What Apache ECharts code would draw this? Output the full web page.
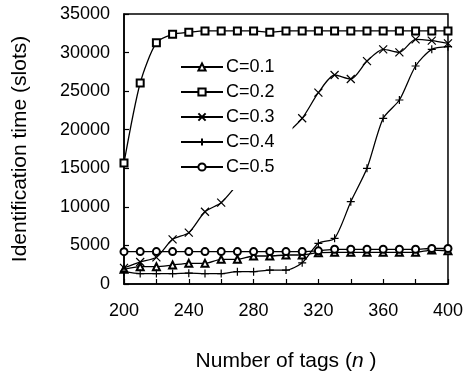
<!DOCTYPE html>
<html><head><meta charset="utf-8">
<script src="https://cdn.jsdelivr.net/npm/echarts@6/dist/echarts.min.js"></script>
<style>html,body{margin:0;padding:0;background:#fff}#c{width:466px;height:378px}</style>
</head><body><div id="c"></div>
<script>
var xValues = [200,210,220,230,240,250,260,270,280,290,300,310,320,330,340,350,360,370,380,390,400];
var c01 = [1900,2240,2240,2460,2680,2680,3200,3200,3630,3630,3760,3760,4060,4100,4100,4100,4100,4100,4100,4400,4300];
var c02 = [15700,26050,31280,32370,32630,32800,32800,32800,32800,32650,32800,32800,32800,32800,32800,32800,32800,32800,32800,32800,32800];
var c03 = [2100,2850,3460,5790,6650,9370,10540,12900,15000,17200,19400,21480,24800,27090,26570,28900,30420,30030,31720,31540,31200];
var c04 = [1600,1350,1350,1350,1400,1350,1350,1600,1600,1800,1800,2750,5270,5920,10670,15000,21480,23850,28260,30420,30760];
var c05 = [4190,4200,4200,4200,4200,4200,4200,4200,4200,4200,4200,4200,4300,4500,4500,4500,4500,4500,4500,4600,4600];
var seriesNames = ['C=0.1','C=0.2','C=0.3','C=0.4','C=0.5'];
var yTicks = [0,5000,10000,15000,20000,25000,30000,35000];
var xTickLabels = [200,240,280,320,360,400];

var FONT = 'Liberation Sans, Arial, sans-serif';
function pairs(arr){ return arr.map(function(v,i){ return [xValues[i], v]; }); }
var symX = 'path://M0,0L10,10M10,0L0,10';
var symPlus = 'path://M5,0L5,10M0,5L10,5';
var defs = [
  {data:c01, symbol:'emptyTriangle', size:7},
  {data:c02, symbol:'emptyRect', size:7},
  {data:c03, symbol:symX, size:8},
  {data:c04, symbol:symPlus, size:8},
  {data:c05, symbol:'emptyCircle', size:7}
];
var chart = echarts.init(document.getElementById('c'), null, {renderer:'canvas'});
chart.setOption({
  animation:false,
  backgroundColor:'#fff',
  textStyle:{fontFamily:FONT},
  grid:{left:124, right:17, top:14, bottom:94, show:true, borderColor:'#000', borderWidth:1.5, backgroundColor:'transparent'},
  legend:{
    orient:'vertical', left:178, top:56, data:seriesNames,
    itemWidth:42, itemHeight:9, itemGap:7,
    backgroundColor:'#fff', padding:[2,18,14,2],
    textStyle:{fontFamily:FONT, fontSize:18, color:'#000', padding:[0,0,0,-2]}
  },
  xAxis:{
    type:'value', min:200, max:400, interval:20,
    name:'Number of tags ({i|n} )', nameLocation:'middle', nameGap:67,
    nameTextStyle:{fontFamily:FONT, fontSize:21, color:'#000', rich:{i:{fontStyle:'italic', fontFamily:FONT, fontSize:21, color:'#000'}}},
    axisLine:{lineStyle:{color:'#000', width:1.5}},
    axisTick:{inside:true, length:5, lineStyle:{color:'#000', width:1.2}},
    axisLabel:{margin:18, fontFamily:FONT, fontSize:18, color:'#000',
      formatter:function(v){ return xTickLabels.indexOf(v) >= 0 ? String(v) : ''; }},
    splitLine:{show:false}
  },
  yAxis:{
    type:'value', min:yTicks[0], max:yTicks[yTicks.length-1], interval:5000,
    name:'Identification time (slots)', nameLocation:'middle', nameGap:93,
    nameTextStyle:{fontFamily:FONT, fontSize:21, color:'#000'},
    axisLine:{lineStyle:{color:'#000', width:1.5}},
    axisTick:{inside:true, length:5, lineStyle:{color:'#000', width:1.2}},
    axisLabel:{margin:14, fontFamily:FONT, fontSize:18, color:'#000',
      formatter:function(v){ return String(v); }},
    splitLine:{show:false}
  },
  series: defs.map(function(d,i){
    return {
      name:seriesNames[i], type:'line', data:pairs(d.data), smooth:0.25,
      symbol:d.symbol, symbolSize:d.size, showAllSymbol:true,
      lineStyle:{color:'#000', width:1.3},
      itemStyle:{color:'#000', borderColor:'#000', borderWidth:1.2}
    };
  })
});
</script></body></html>
